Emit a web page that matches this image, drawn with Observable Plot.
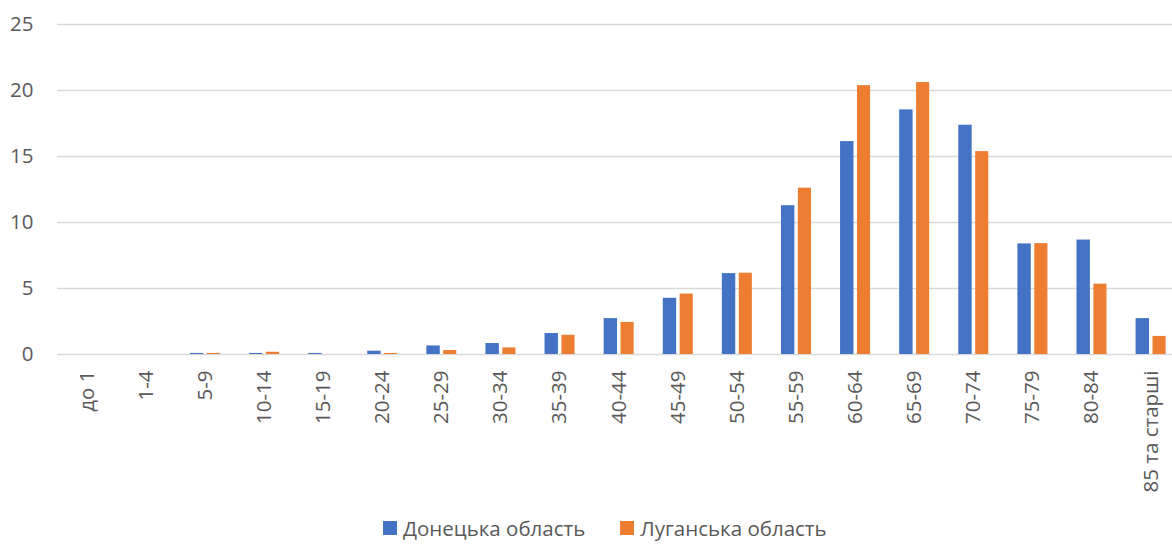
<!DOCTYPE html>
<html>
<head>
<meta charset="utf-8">
<script src="https://cdn.jsdelivr.net/npm/d3@7"></script>
<script src="https://cdn.jsdelivr.net/npm/@observablehq/plot@0.6"></script>
<style>
  html, body { margin: 0; padding: 0; background: #fff; }
  body { width: 1172px; height: 544px; overflow: hidden; font-family: "Open Sans", sans-serif; color: #595959; }
  #legend { display: flex; align-items: center; height: 46px; padding-left: 383px; font-size: 20.5px; line-height: 1.2; }
  .item { display: flex; align-items: center; margin-right: 35px; }
  .sw { width: 14px; height: 14px; margin-right: 6px; }
</style>
</head>
<body>
<div id="chart"></div>
<div id="legend"></div>
<script>
const ages = ["до 1","1-4","5-9","10-14","15-19","20-24","25-29","30-34","35-39","40-44","45-49","50-54","55-59","60-64","65-69","70-74","75-79","80-84","85 та старші"];
const donetsk = [0, 0, 0.08, 0.08, 0.08, 0.25, 0.65, 0.83, 1.59, 2.72, 4.26, 6.13, 11.27, 16.13, 18.53, 17.37, 8.38, 8.67, 2.72];
const luhansk = [0, 0, 0.08, 0.17, 0, 0.08, 0.3, 0.5, 1.46, 2.43, 4.58, 6.16, 12.6, 20.37, 20.6, 15.37, 8.4, 5.33, 1.37];
const seriesNames = ["Донецька область", "Луганська область"];
const colors = ["#4472C4", "#ED7D31"];
const yTicks = [0, 5, 10, 15, 20, 25];

const dataD = ages.map((a, i) => ({age: a, value: donetsk[i]}));
const dataL = ages.map((a, i) => ({age: a, value: luhansk[i]}));

const chart = Plot.plot({
  width: 1172,
  height: 505,
  marginTop: 24,
  marginBottom: 151,
  marginLeft: 57,
  marginRight: 0,
  style: {fontFamily: "Open Sans, sans-serif", fontSize: "20.5px", color: "#595959", background: "#fff"},
  x: {type: "band", domain: ages, range: [57, 1180], padding: 0, round: false, label: null},
  y: {domain: [0, 25], range: [354, 24], label: null},
  marks: [
    Plot.ruleY(yTicks, {stroke: "#D9D9D9", strokeWidth: 1.3}),
    Plot.barY(dataD, {x: "age", y: "value", fill: colors[0], insetLeft: 14.7, insetRight: 31}),
    Plot.barY(dataL, {x: "age", y: "value", fill: colors[1], insetLeft: 31.6, insetRight: 14.4}),
    Plot.axisY({ticks: yTicks, tickSize: 0, tickPadding: 24, label: null, fill: "#595959", fontSize: 20.5}),
    Plot.axisX({tickSize: 0, tickPadding: 16, tickRotate: -90, label: null, fill: "#595959", fontSize: 20.5})
  ]
});
document.getElementById("chart").appendChild(chart);

const legend = document.getElementById("legend");
seriesNames.forEach((n, i) => {
  const it = document.createElement("div");
  it.className = "item";
  const sw = document.createElement("div");
  sw.className = "sw";
  sw.style.background = colors[i];
  const t = document.createElement("span");
  t.textContent = n;
  it.appendChild(sw); it.appendChild(t);
  legend.appendChild(it);
});
</script>
</body>
</html>
